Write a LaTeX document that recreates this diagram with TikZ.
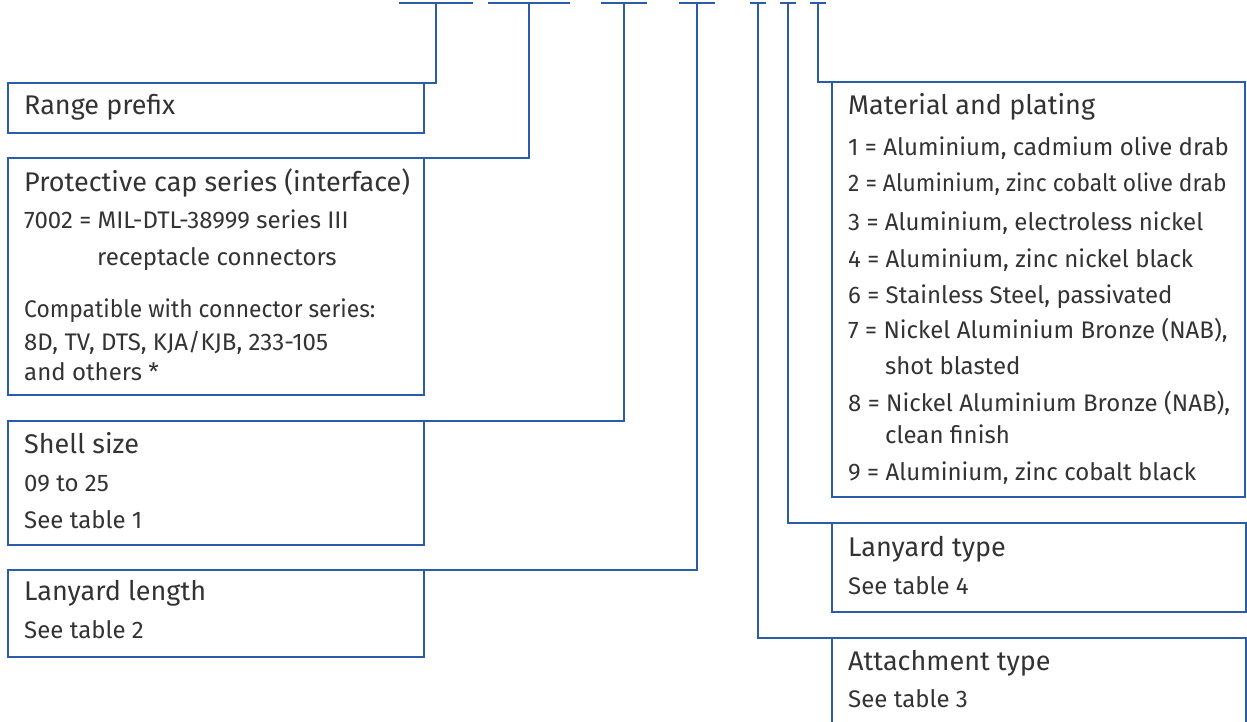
\documentclass[tikz,border=0pt]{standalone}
\usepackage{fontspec}
\setmainfont{Fira Sans}
\newfontfamily\narrowfont[FakeStretch=0.95]{Fira Sans}
\usetikzlibrary{positioning}

\begin{document}
\begin{tikzpicture}[x=1pt,y=-1pt,
	box/.style={draw=linecolor,line width=2.8pt,outer sep=0pt,inner sep=0pt,anchor=north west},
	conn/.style={draw=linecolor,line width=2.8pt},
	head/.style={anchor=base west,inner sep=0pt,text=textcolor,font=\fontsize{27}{30}\selectfont},
	body/.style={anchor=base west,inner sep=0pt,text=textcolor,font=\fontsize{24}{28}\selectfont}]

	\definecolor{linecolor}{rgb}{0.17,0.36,0.66}
	\definecolor{textcolor}{rgb}{0.2,0.2,0.2}

	\useasboundingbox (0,0) rectangle (1247,722);
	\clip (0,0) rectangle (1247,722);

	% blanks of the part number
	\foreach \n/\x/\w in {p1/436/37, p2/529/41, p3/624/23, p4/697/18, p5/758/8, p6/788/8, p7/818/8}{
		\coordinate (\n) at (\x,3);
		\draw [conn] (\x-\w,3) -- (\x+\w,3);
	}

	% left boxes
	\node(range) [box,minimum width=416pt,minimum height=50pt] at (8,83){};
	\node(cap) [box,minimum width=416pt,minimum height=237pt] at (8,158){};
	\node(shell) [box,minimum width=416pt,minimum height=124pt] at (8,421){};
	\node(lanlen) [box,minimum width=416pt,minimum height=87pt] at (8,570){};

	% right boxes
	\node(mat) [box,minimum width=413pt,minimum height=415pt] at (832,82){};
	\node(lantype) [box,minimum width=414pt,minimum height=89pt] at (832,523){};
	\node(attach) [box,minimum width=414pt,minimum height=120pt] at (832,638){};

	\draw [conn] (p1) |- (range.north east);
	\draw [conn] (p2) |- (cap.north east);
	\draw [conn] (p3) |- (shell.north east);
	\draw [conn] (p4) |- (lanlen.north east);
	\draw [conn] (p5) |- (attach.north west);
	\draw [conn] (p6) |- (lantype.north west);
	\draw [conn] (p7) |- (mat.north west);

	\node(range-t) [head] at (24,115){Range prefix};

	\node(cap-t) [head] at (24,192){Protective cap series (interface)};
	\node(cap-1) [body] at (24,229){7002 = MIL-DTL-38999 series III};
	\node(cap-2) [body] at (97,265){receptacle connectors};
	\node(cap-3) [body] at (24,317){\narrowfont Compatible with connector series:};
	\node(cap-4) [body] at (24,350){8D, TV, DTS, KJA/KJB, 233-105};
	\node(cap-5) [body] at (24,380){and others *};

	\node(shell-t) [head] at (24,453){Shell size};
	\node(shell-1) [body] at (24,491){09 to 25};
	\node(shell-2) [body] at (24,528){See table 1};

	\node(lanlen-t) [head] at (24,600){Lanyard length};
	\node(lanlen-1) [body] at (24,638){See table 2};

	\node(mat-t) [head] at (848,115){Material and plating};
	\foreach \i/\x/\y/\t in {1/848/156/{1 = Aluminium, cadmium olive drab},
		2/848/192/{\narrowfont 2 = Aluminium, zinc cobalt olive drab},
		3/848/230/{3 = Aluminium, electroless nickel},
		4/848/267/{4 = Aluminium, zinc nickel black},
		5/848/303/{6 = Stainless Steel, passivated},
		6/848/338/{7 = Nickel Aluminium Bronze (NAB),},
		7/885/374/{shot blasted},
		8/848/411/{8 = Nickel Aluminium Bronze (NAB),},
		9/885/443/{clean finish},
		10/848/480/{9 = Aluminium, zinc cobalt black}}
		\node(mat-\i) [body] at (\x,\y){\t};

	\node(lantype-t) [head] at (848,556){Lanyard type};
	\node(lantype-1) [body] at (848,594){See table 4};

	\node(attach-t) [head] at (848,670){Attachment type};
	\node(attach-1) [body] at (848,707){See table 3};

\end{tikzpicture}
\end{document}
